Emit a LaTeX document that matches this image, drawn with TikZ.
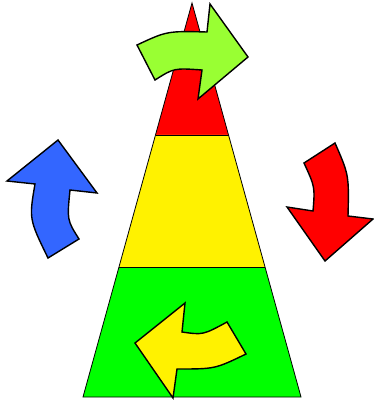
\documentclass[tikz,border=0pt]{standalone}
\begin{document}
\begin{tikzpicture}[x=1pt,y=-1pt,
  band/.style={draw=black,line width=0.8pt,line join=miter},
  arrowshape/.style={draw=black,line width=1.4pt,line join=miter}]
\useasboundingbox (0,0) rectangle (373,403);
\definecolor{lgreen}{HTML}{99FF33}
\definecolor{ablue}{HTML}{3366FF}
% pyramid bands
\coordinate (apex) at (192,3);
\coordinate (rl) at (155.5,135);
\coordinate (rr) at (228.5,135);
\coordinate (yl) at (119,267);
\coordinate (yr) at (265,267);
\coordinate (bl) at (83,397);
\coordinate (br) at (301,397);
\fill[red] (apex) -- (rr) -- (rl) -- cycle;
\fill[yellow] (rl) -- (rr) -- (yr) -- (yl) -- cycle;
\fill[green] (yl) -- (yr) -- (br) -- (bl) -- cycle;
\draw[band] (apex) -- (br) -- (bl) -- cycle;
\draw[band] (rl) -- (rr);
\draw[band] (yl) -- (yr);
% green arrow (top)
\draw[arrowshape,fill=lgreen] (137,45) .. controls (167,31) .. (207,32) -- (210,4) -- (248,57) -- (198,99) -- (202,70) .. controls (174,68) .. (155,80) -- cycle;
% red arrow (right)
\draw[arrowshape,fill=red] (304,163) -- (335,143) .. controls (349,175) .. (348,216) -- (373,219) -- (325,261) -- (287,207) -- (313,211) .. controls (315,187) .. (304,163) -- cycle;
% yellow arrow (bottom)
\draw[arrowshape,fill=yellow] (246,354) .. controls (215,369) .. (177,369) -- (173,398) -- (135,343) -- (185,303) -- (182,332) .. controls (203,335) .. (227,322) -- cycle;
% blue arrow (left)
\draw[arrowshape,fill=ablue] (48,258) .. controls (29,219) .. (35,184) -- (7,181) -- (58,140) -- (97,193) -- (70,190) .. controls (67,220) .. (79,239) -- cycle;
\end{tikzpicture}
\end{document}
